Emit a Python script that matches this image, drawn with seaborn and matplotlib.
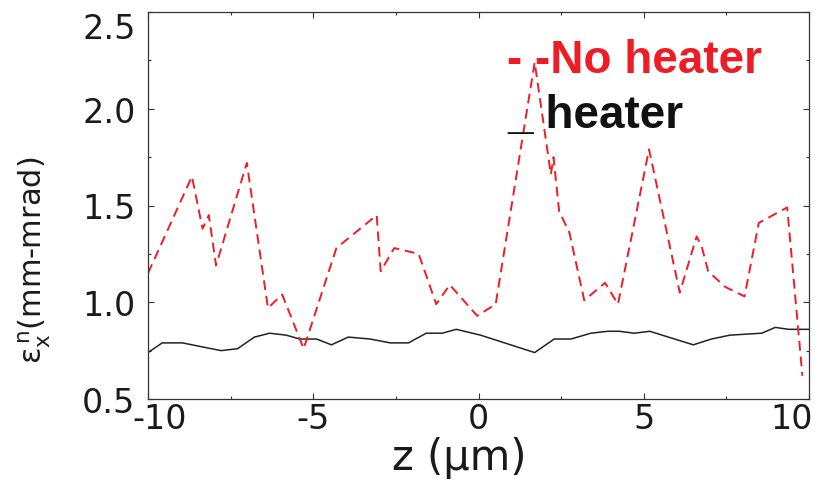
import matplotlib
matplotlib.use("Agg")
import matplotlib.pyplot as plt
import matplotlib.transforms as mtransforms
from matplotlib.ticker import MultipleLocator, FixedLocator
import seaborn as sns
import pandas as pd

# ---- data ----
z_noheater = [-10, -8.67, -8.35, -8.16, -7.94, -7.01, -6.37, -5.94, -5.29, -4.30,
              -3.08, -2.96, -2.55, -1.81, -1.28, -0.87, -0.04, 0.52, 1.70, 2.19,
              2.27, 2.44, 2.75, 3.20, 3.83, 4.22, 5.16, 6.09, 6.60, 6.75,
              6.95, 7.46, 8.05, 8.48, 9.34, 9.80]
eps_noheater = [1.15, 1.65, 1.38, 1.45, 1.19, 1.72, 0.97, 1.04, 0.76, 1.28,
                1.45, 1.16, 1.28, 1.25, 0.99, 1.09, 0.93, 0.99, 2.24, 1.66,
                1.75, 1.47, 1.36, 1.01, 1.10, 0.99, 1.79, 1.05, 1.34, 1.29,
                1.16, 1.08, 1.03, 1.41, 1.49, 0.62]

z_heater = [-10, -9.57, -8.96, -7.79, -7.29, -6.78, -6.32, -5.82, -5.41, -4.90,
            -4.45, -3.94, -3.28, -2.67, -2.12, -1.58, -1.10, -0.67, 0.06, 1.70,
            2.29, 2.80, 3.40, 3.91, 4.26, 4.71, 5.18, 6.50, 7.05, 7.61,
            8.57, 8.98, 9.39, 10.0]
eps_heater = [0.74, 0.79, 0.79, 0.75, 0.76, 0.82, 0.84, 0.83, 0.81, 0.81,
              0.78, 0.82, 0.81, 0.79, 0.79, 0.84, 0.84, 0.86, 0.83, 0.74,
              0.81, 0.81, 0.84, 0.85, 0.85, 0.84, 0.85, 0.78, 0.81, 0.83,
              0.84, 0.87, 0.86, 0.86]

x_ticks = [-10, -5, 0, 5, 10]
y_ticks = [0.5, 1.0, 1.5, 2.0, 2.5]
y_ticklabels = ["0.5", "1.0", "1.5", "2.0", "2.5"]
legend_labels = ["- -No heater", "_ heater"]

sns.set_theme(style="white")
plt.rcParams["font.family"] = ["DejaVu Sans"]
plt.rcParams["mathtext.fontset"] = "dejavusans"

fig = plt.figure(figsize=(8.21, 4.81), dpi=100)
ax = fig.add_axes([148 / 821, 1 - 400 / 481, (809 - 148) / 821, (400 - 13) / 481])

df_nh = pd.DataFrame({"z": z_noheater, "eps": eps_noheater})
df_h = pd.DataFrame({"z": z_heater, "eps": eps_heater})

sns.lineplot(data=df_h, x="z", y="eps", ax=ax, color="#222222", lw=1.1,
             sort=False, estimator=None)
sns.lineplot(data=df_nh, x="z", y="eps", ax=ax, color="#ee1c25", lw=1.4,
             sort=False, estimator=None, dashes=False, linestyle=(0, (5, 3)))

ax.set_xlim(-10, 10)
ax.set_ylim(0.5, 2.5)
ax.xaxis.set_major_locator(FixedLocator(x_ticks))
ax.xaxis.set_minor_locator(MultipleLocator(2.5))
ax.yaxis.set_major_locator(FixedLocator(y_ticks))
ax.yaxis.set_minor_locator(MultipleLocator(0.25))
ax.set_yticklabels(y_ticklabels)
ax.set_xticklabels([str(v) for v in x_ticks])

ax.tick_params(axis="both", which="both", direction="in", top=True, right=True,
               bottom=True, left=True, color="#333333", width=0.8)
ax.tick_params(axis="both", which="major", length=4)
ax.tick_params(axis="both", which="minor", length=2.5)
ax.tick_params(axis="y", which="major", labelsize=24, pad=9, labelcolor="#1a1a1a")
ax.tick_params(axis="x", which="major", labelsize=24, pad=2, labelcolor="#1a1a1a")

for s in ax.spines.values():
    s.set_color("#333333")
    s.set_linewidth(0.9)

ax.set_xlabel("z (μm)", fontsize=30, color="#1a1a1a")
ax.xaxis.set_label_coords((459 - 148) / 661, -(458 - 400) / 387)
ax.xaxis.label.set_va("center")
ax.set_ylabel(r"ε$_\mathregular{x}^\mathregular{\,n}$(mm-mrad)", fontsize=22, color="#1a1a1a")
ax.yaxis.set_label_coords((35 - 148) / 661, (400 - 260) / 387)
ax.yaxis.label.set_va("center")

# edge tick label adjustments like the reference
ylabels = ax.get_yticklabels()
ylabels[-1].set_va("top")
xlabels = ax.get_xticklabels()
xlabels[0].set_transform(xlabels[0].get_transform() +
                         mtransforms.ScaledTranslation(12 / 100, 0, fig.dpi_scale_trans))
xlabels[-1].set_transform(xlabels[-1].get_transform() +
                          mtransforms.ScaledTranslation(-17 / 100, 0, fig.dpi_scale_trans))

# in-plot legend text
ax.text((507 - 148) / 661, (400 - 73) / 387, legend_labels[0], transform=ax.transAxes,
        fontsize=33, fontweight="bold", color="#ee1c25", family="Liberation Sans",
        ha="left", va="baseline")
ax.text((507 - 148) / 661, (400 - 128) / 387, legend_labels[1], transform=ax.transAxes,
        fontsize=33, fontweight="bold", color="#111111", family="Liberation Sans",
        ha="left", va="baseline")

fig.savefig("out.png", dpi=100)
